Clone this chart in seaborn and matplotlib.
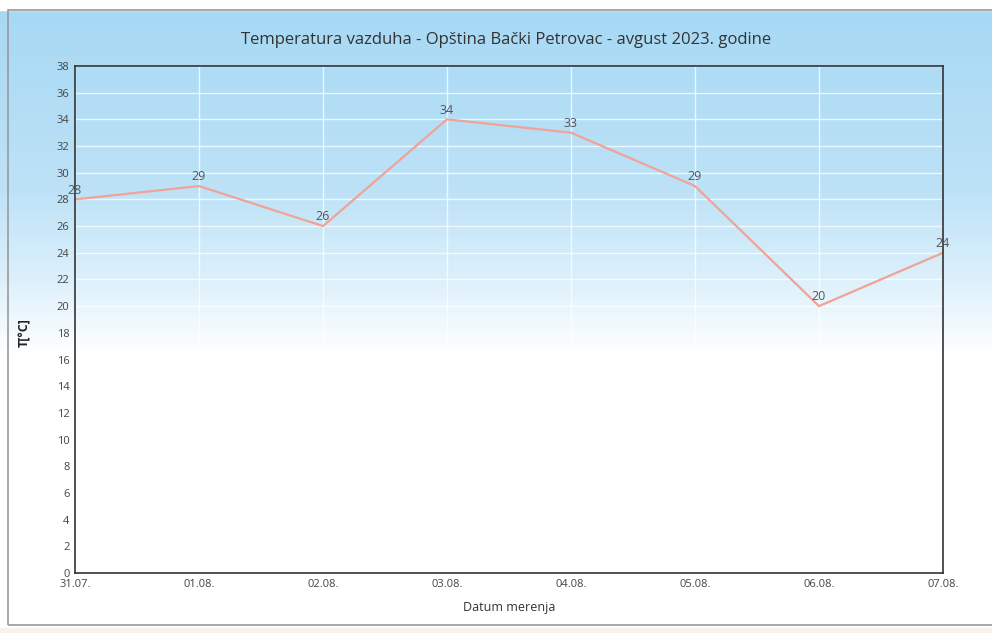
import numpy as np
import pandas as pd
import seaborn as sns
import matplotlib.pyplot as plt
from matplotlib.colors import LinearSegmentedColormap
from matplotlib.patches import Rectangle

dates = ["31.07.", "01.08.", "02.08.", "03.08.", "04.08.", "05.08.", "06.08.", "07.08."]
temps = [28, 29, 26, 34, 33, 29, 20, 24]
yticks = list(range(0, 39, 2))

df = pd.DataFrame({"datum": range(len(dates)), "t": temps})

sns.set_style("white")
plt.rcParams["font.family"] = ["Open Sans", "DejaVu Sans"]

fig = plt.figure(figsize=(9.92, 6.33), dpi=100)

# gradient background over the whole figure
bg = fig.add_axes([0, 0, 1, 1], zorder=-10)
cmap = LinearSegmentedColormap.from_list(
    "sky", [(0, "#a6d8f4"), (0.3, "#bde2f7"), (0.44, "#dcf0fb"), (0.56, "#ffffff"), (1, "#ffffff")])
grad = np.linspace(0, 1, 256).reshape(-1, 1)
bg.imshow(grad, aspect="auto", cmap=cmap, extent=[0, 1, 0, 1.0], origin="upper")
bg.add_patch(Rectangle((0, 0.984), 1, 0.016, color="white", transform=bg.transAxes))
bg.add_patch(Rectangle((0.008, 0.012), 0.995, 0.972, fill=False, edgecolor="#9a9a9a", lw=1.2, transform=bg.transAxes))
bg.add_patch(Rectangle((0, 0), 1, 0.008, color="#f7f3ea", transform=bg.transAxes))
bg.set_xlim(0, 1)
bg.set_ylim(0, 1)
bg.axis("off")

ax = fig.add_axes([0.0756, 0.0948, 0.875, 0.801])
ax.patch.set_alpha(0)
sns.lineplot(data=df, x="datum", y="t", ax=ax, color="#f0a396", lw=1.6)

for x, y in zip(df["datum"], df["t"]):
    ax.text(x, y + 0.2, str(y), ha="center", va="bottom", fontsize=9, color="#555555")

ax.set_xlim(0, len(dates) - 1)
ax.set_ylim(0, 38)
ax.set_xticks(range(len(dates)))
ax.set_xticklabels(dates)
ax.set_yticks(yticks)
ax.tick_params(axis="both", labelsize=8, colors="#444444", length=0, pad=4)
ax.grid(True, color="white", lw=1.0, alpha=0.75)
for s in ax.spines.values():
    s.set_color("#333333")
    s.set_linewidth(1.2)

ax.set_xlabel("Datum merenja", fontsize=9, color="#333333", labelpad=8)
ax.set_ylabel("T[°C]", fontsize=9, color="#222222", fontweight="bold")
ax.yaxis.set_label_coords(-0.05, 0.475)
fig.text(0.51, 0.937, "Temperatura vazduha - Opština Bački Petrovac - avgust 2023. godine",
         ha="center", va="center", fontsize=12, color="#333333")

fig.savefig("out.png", dpi=100)
